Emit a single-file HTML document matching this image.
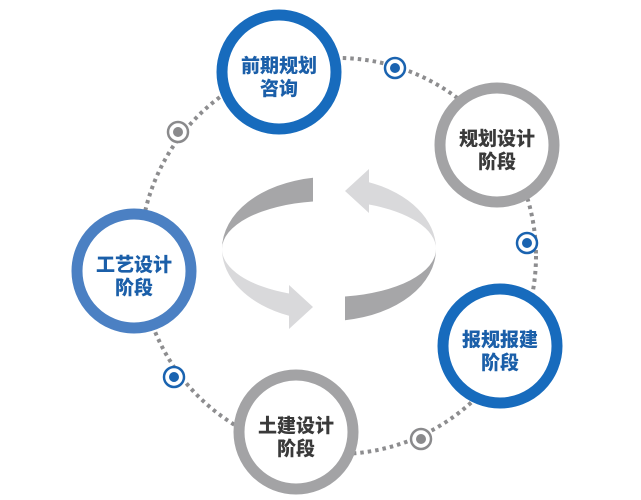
<!DOCTYPE html>
<html><head><meta charset="utf-8"><style>
html,body{margin:0;padding:0;background:#fff;width:641px;height:500px;overflow:hidden}
svg text{font-family:"Liberation Sans","Noto Sans CJK SC",sans-serif;font-weight:900;font-size:19px;text-anchor:middle}
</style></head><body>
<svg width="641" height="500" viewBox="0 0 641 500" xmlns="http://www.w3.org/2000/svg">
<circle cx="338" cy="256" r="198" fill="none" stroke="#8d8d8f" stroke-width="4" stroke-dasharray="3.5 4"/>
<g transform="translate(329,249)">
 <g>
  <path d="M -16,-71.2 A107,72 0 0 0 -107,0 A107,48 0 0 1 -16,-47.5 Z" fill="#a6a6a8"/>
  <path d="M -107,0 A107,48 0 0 0 -40,44.5 L -40,36 L -16,58 L -40,80 L -40,66.8 A107,72 0 0 1 -107,0 Z" fill="#d9d9db"/>
 </g>
 <g transform="rotate(180)">
  <path d="M -16,-71.2 A107,72 0 0 0 -107,0 A107,48 0 0 1 -16,-47.5 Z" fill="#a6a6a8"/>
  <path d="M -107,0 A107,48 0 0 0 -40,44.5 L -40,36 L -16,58 L -40,80 L -40,66.8 A107,72 0 0 1 -107,0 Z" fill="#d9d9db"/>
 </g>
</g>
<g fill="#fff" stroke-width="2.5">
 <circle cx="395" cy="68" r="10" stroke="#1a63b0"/><circle cx="395" cy="68" r="5" fill="#1a63b0" stroke="none"/>
 <circle cx="527" cy="243" r="10" stroke="#1a63b0"/><circle cx="527" cy="243" r="5" fill="#1a63b0" stroke="none"/>
 <circle cx="174" cy="377" r="10" stroke="#1a63b0"/><circle cx="174" cy="377" r="5" fill="#1a63b0" stroke="none"/>
 <circle cx="178" cy="132" r="10" stroke="#8a8a8c"/><circle cx="178" cy="132" r="5" fill="#8a8a8c" stroke="none"/>
 <circle cx="421" cy="439" r="10" stroke="#8a8a8c"/><circle cx="421" cy="439" r="5" fill="#8a8a8c" stroke="none"/>
</g>
<g fill="#fff" stroke-width="11">
 <circle cx="279" cy="72" r="57" stroke="#176bbd"/>
 <circle cx="497" cy="145" r="57" stroke="#a3a3a5"/>
 <circle cx="134" cy="271" r="57" stroke="#4b80c3"/>
 <circle cx="500" cy="346" r="57" stroke="#176bbd"/>
 <circle cx="296" cy="432" r="57" stroke="#a3a3a5"/>
</g>
<g fill="#1b5fa9">
 <text x="279" y="72">前期规划</text><text x="279" y="95">咨询</text>
 <text x="134" y="271">工艺设计</text><text x="134" y="294">阶段</text>
 <text x="500" y="346">报规报建</text><text x="500" y="369">阶段</text>
</g>
<g fill="#3a3a3a">
 <text x="497" y="145">规划设计</text><text x="497" y="168">阶段</text>
 <text x="296" y="432">土建设计</text><text x="296" y="455">阶段</text>
</g>
</svg>
</body></html>
